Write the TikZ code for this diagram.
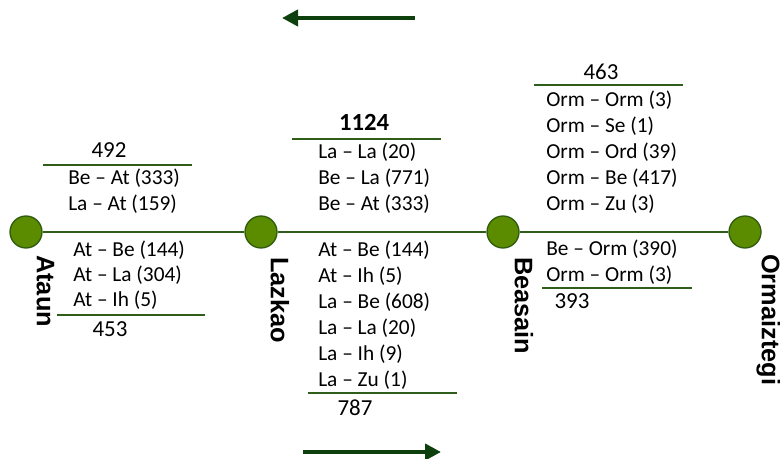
\documentclass[tikz,border=0pt]{standalone}
\usepackage{fontspec}
\setmainfont{Carlito}
\newfontfamily\stationfont{Liberation Sans}
\usetikzlibrary{arrows.meta}
\definecolor{stopfill}{HTML}{5B8C00}
\definecolor{stopline}{HTML}{2F5C0F}
\definecolor{rule}{HTML}{2E5E1A}
\definecolor{flow}{HTML}{0D400D}
\begin{document}
\begin{tikzpicture}[x=0.75pt,y=-0.75pt,
  stop/.style={circle,draw=stopline,line width=1pt,fill=stopfill,minimum size=24pt,inner sep=0pt},
  track/.style={draw=rule,line width=1.1pt},
  sep/.style={draw=rule,line width=1.5pt},
  trip/.style={anchor=west,inner sep=0pt,font=\fontsize{16}{18}\selectfont},
  total/.style={inner sep=0pt,font=\fontsize{17.2}{20}\selectfont},
  station/.style={rotate=-90,anchor=mid west,inner sep=0pt,font=\stationfont\bfseries\fontsize{19}{22}\selectfont},
  dirarrow/.style={draw=flow,line width=3pt,-{Triangle[length=12pt,width=12pt]}}]
\useasboundingbox (0,0) rectangle (780,459);

% stations along the line
\node[stop] (at) at (26,232) {};
\node[stop] (la) at (261,232) {};
\node[stop] (be) at (503,232) {};
\node[stop] (or) at (745,232) {};
\draw[track] (at) -- (la);
\draw[track] (la) -- (be);
\draw[track] (be) -- (or);

\node[station] (atn) at (40,255) {Ataun};
\node[station] (lan) at (274,257) {Lazkao};
\node[station] (ben) at (518,257) {Beasain};
\node[station] (orn) at (765,254) {Ormaiztegi};

% Ataun -- Lazkao
\node[total] (t1u) at (109,150) {492};
\coordinate (s1a) at (43,165); \coordinate (s1b) at (192,165);
\draw[sep] (s1a) -- (s1b);
\node[trip] (a1) at (68,178) {Be – At (333)};
\node[trip] (a2) at (68,204) {La – At (159)};
\node[trip] (a3) at (73,250) {At – Be (144)};
\node[trip] (a4) at (73,275) {At – La (304)};
\node[trip] (a5) at (73,300) {At – Ih (5)};
\coordinate (s2a) at (57,315); \coordinate (s2b) at (205,315);
\draw[sep] (s2a) -- (s2b);
\node[total] (t1d) at (110,329) {453};

% Lazkao -- Beasain
\node[total,font=\bfseries\fontsize{18.5}{22}\selectfont] (t2u) at (364,122) {1124};
\coordinate (s3a) at (292,139); \coordinate (s3b) at (441,139);
\draw[sep] (s3a) -- (s3b);
\node[trip] (b1) at (318,152) {La – La (20)};
\node[trip] (b2) at (318,178) {Be – La (771)};
\node[trip] (b3) at (318,204) {Be – At (333)};
\node[trip] (b4) at (318,250) {At – Be (144)};
\node[trip] (b5) at (318,276) {At – Ih (5)};
\node[trip] (b6) at (318,302) {La – Be (608)};
\node[trip] (b7) at (318,328) {La – La (20)};
\node[trip] (b8) at (318,354) {La – Ih (9)};
\node[trip] (b9) at (318,380) {La – Zu (1)};
\coordinate (s4a) at (308,393); \coordinate (s4b) at (457,393);
\draw[sep] (s4a) -- (s4b);
\node[total] (t2d) at (355,408) {787};

% Beasain -- Ormaiztegi
\node[total] (t3u) at (601,72) {463};
\coordinate (s5a) at (534,85); \coordinate (s5b) at (683,85);
\draw[sep] (s5a) -- (s5b);
\node[trip] (c1) at (546,100) {Orm – Orm (3)};
\node[trip] (c2) at (546,126) {Orm – Se (1)};
\node[trip] (c3) at (546,152) {Orm – Ord (39)};
\node[trip] (c4) at (546,178) {Orm – Be (417)};
\node[trip] (c5) at (546,204) {Orm – Zu (3)};
\node[trip] (c6) at (546,249) {Be – Orm (390)};
\node[trip] (c7) at (546,275) {Orm – Orm (3)};
\coordinate (s6a) at (542,288); \coordinate (s6b) at (692,288);
\draw[sep] (s6a) -- (s6b);
\node[total] (t3d) at (572,301) {393};

% direction of travel
\coordinate (u0) at (415,18); \coordinate (u1) at (282,18);
\draw[dirarrow] (u0) -- (u1);
\coordinate (d0) at (303,452); \coordinate (d1) at (441,452);
\draw[dirarrow] (d0) -- (d1);
\end{tikzpicture}
\end{document}
